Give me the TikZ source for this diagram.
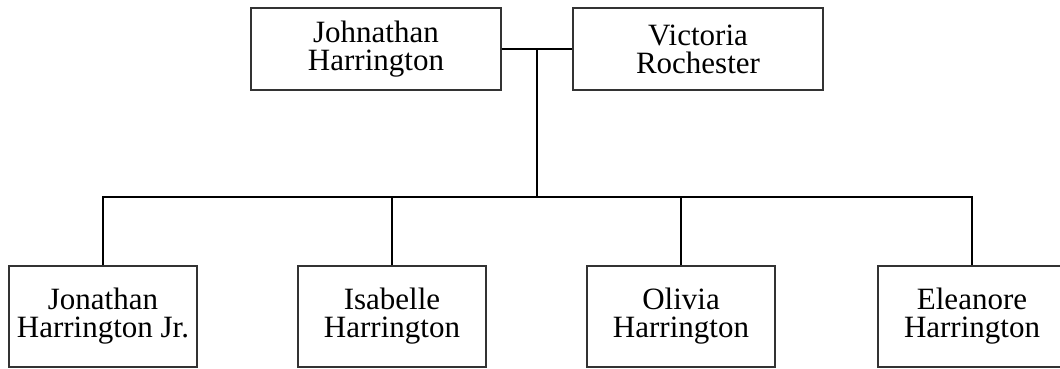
\documentclass[tikz,border=0pt]{standalone}
\usepackage{fontspec}
\setmainfont{Liberation Serif}
\usepackage{tikz}
\usetikzlibrary{positioning,calc}
\tikzset{
    every picture/.style={line join=miter},
    person/.style={draw=black!80,line width=1.3pt,minimum width=250pt,minimum height=82pt,
      inner sep=2pt,align=center,font=\fontsize{31}{28}\selectfont},
    child/.style={person,minimum width=188pt,minimum height=101pt},
    link/.style={draw=black,line width=2pt}
}
\begin{document}
\begin{tikzpicture}[x=1pt,y=-1pt]
  \useasboundingbox (0,0) rectangle (1060,368);
  % parents
  \node[person] (john) at (376,49) {Johnathan\\Harrington};
  \node[person] (vic) at (698,49) {Victoria\\Rochester};
  \draw[link] (john.east)--(vic.west);
  \coordinate (mid) at ($(john.east)!0.5!(vic.west)$);
  \coordinate (bar) at (537,197);
  \draw[link] (mid)--(bar);
  % children
  \foreach \i/\x/\name in {1/103/Jonathan\\Harrington Jr.,2/392/Isabelle\\Harrington,
      3/681/Olivia\\Harrington,4/972/Eleanore\\Harrington} {
    \node[child] (c\i) at (\x,316.5) {\name};
  }
  \draw[link] (c1.north)|-(bar)-|(c4.north);
  \draw[link] (c2.north)--(c2.north|-bar);
  \draw[link] (c3.north)--(c3.north|-bar);
\end{tikzpicture}
\end{document}
